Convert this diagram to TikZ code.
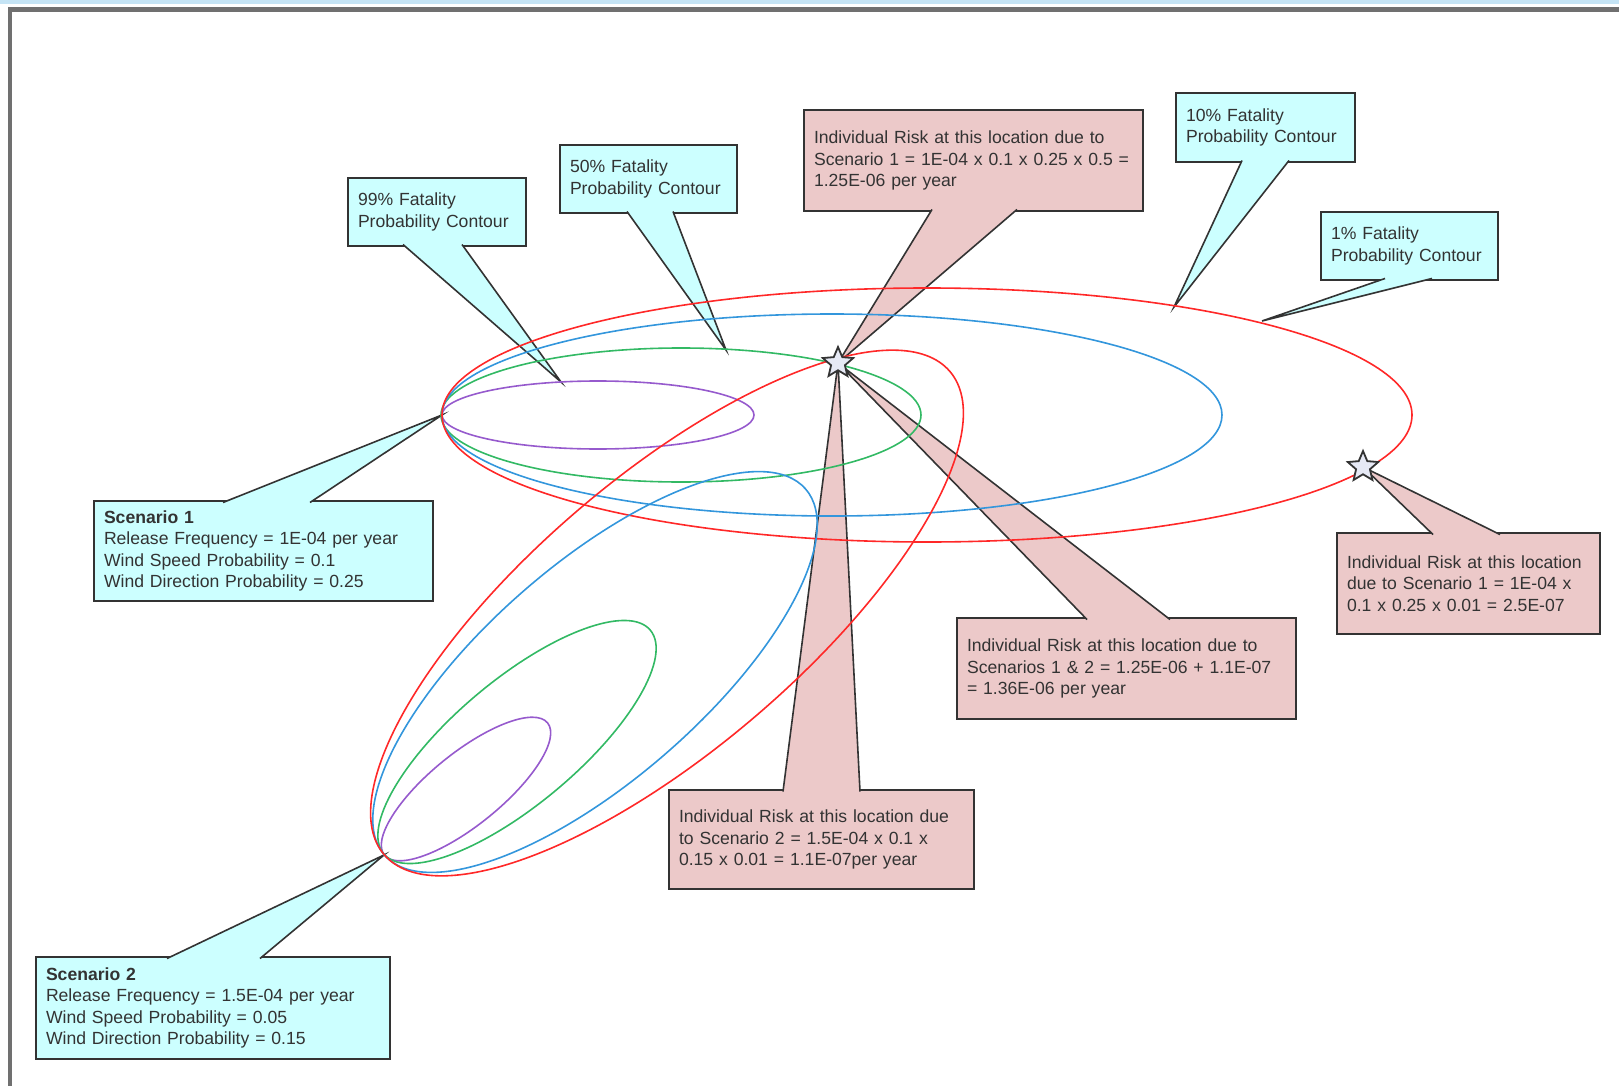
\documentclass[tikz,border=0pt]{standalone}
\usepackage{fontspec}
\setmainfont{Liberation Sans}
\usetikzlibrary{shapes.geometric, positioning, calc}

\definecolor{calloutcyan}{RGB}{204,255,255}
\definecolor{calloutpink}{RGB}{236,201,201}
\definecolor{boxline}{RGB}{51,51,51}
\definecolor{contourred}{RGB}{255,40,40}
\definecolor{contourblue}{RGB}{51,150,220}
\definecolor{contourgreen}{RGB}{50,185,100}
\definecolor{contourpurple}{RGB}{150,90,205}
\definecolor{starfill}{RGB}{230,233,245}
\definecolor{framegray}{RGB}{112,112,112}
\definecolor{framestrip}{RGB}{197,228,245}

\begin{document}
\begin{tikzpicture}[x=1pt, y=-1pt,
    every node/.style={font=\fontsize{17.6}{21.6}\selectfont, text=boxline},
    infobox/.style={draw=boxline, line width=2pt, fill=calloutcyan,
        anchor=north west, align=left, inner xsep=10pt, inner ysep=0pt,
        outer sep=0pt},
    riskbox/.style={infobox, fill=calloutpink},
    tail/.style={draw=boxline, line width=1.6pt},
    contour/.style={line width=1.6pt},
    marker/.style={star, star points=5, star point ratio=2.2,
        draw=boxline, line width=1.8pt, fill=starfill,
        minimum size=32pt, inner sep=0pt}]
    \useasboundingbox (0,0) rectangle (1619,1086);

    % window frame
    \fill[framestrip] (0,0) rectangle (1619,4);
    \fill[framegray] (8,7) rectangle (1619,12);
    \fill[framegray] (8,7) rectangle (12,1086);

    % release points, receptors and contour tips
    \coordinate (src1) at (442,415);
    \coordinate (src2) at (384,855);
    \coordinate (spot1) at (838,363);
    \coordinate (spot2) at (1363,467);
    \coordinate (tip99) at (561,382);
    \coordinate (tip50) at (726,350);
    \coordinate (tip10) at (1174,307);
    \coordinate (tip1) at (1262,321);

    % callout boxes
    \node[infobox, text width=158pt, minimum height=68pt] (c99) at (348,178)
        {99\% Fatality\\Probability Contour};
    \node[infobox, text width=157pt, minimum height=68pt] (c50) at (560,145)
        {50\% Fatality\\Probability Contour};
    \node[riskbox, text width=319pt, minimum height=101pt] (ir1) at (804,110)
        {Individual Risk at this location due to\\Scenario 1 = 1E-04 x 0.1 x 0.25 x 0.5 =\\1.25E-06 per year};
    \node[infobox, text width=159pt, minimum height=69pt] (c10) at (1176,93)
        {10\% Fatality\\Probability Contour};
    \node[infobox, text width=157pt, minimum height=68pt] (c1) at (1321,212)
        {1\% Fatality\\Probability Contour};
    \node[infobox, text width=319pt, minimum height=100pt] (sc1) at (94,501)
        {\textbf{Scenario 1}\\Release Frequency = 1E-04 per year\\Wind Speed Probability = 0.1\\Wind Direction Probability = 0.25};
    \node[riskbox, text width=243pt, minimum height=101pt] (irr) at (1337,533)
        {Individual Risk at this location\\due to Scenario 1 = 1E-04 x\\0.1 x 0.25 x 0.01 = 2.5E-07};
    \node[riskbox, text width=319pt, minimum height=101pt] (ir12) at (957,618)
        {Individual Risk at this location due to\\Scenarios 1 \& 2 = 1.25E-06 + 1.1E-07\\= 1.36E-06 per year};
    \node[riskbox, text width=285pt, minimum height=99pt] (ir2) at (669,790)
        {Individual Risk at this location due\\to Scenario 2 = 1.5E-04 x 0.1 x\\0.15 x 0.01 = 1.1E-07per year};
    \node[infobox, text width=334pt, minimum height=102pt] (sc2) at (36,957)
        {\textbf{Scenario 2}\\Release Frequency = 1.5E-04 per year\\Wind Speed Probability = 0.05\\Wind Direction Probability = 0.15};

    % callout tails
    \filldraw[tail, fill=calloutcyan] ($(c99.south west)+(55,-1.5)$) -- (tip99) -- ($(c99.south west)+(114,-1.5)$);
    \filldraw[tail, fill=calloutcyan] ($(c50.south west)+(67,-1.5)$) -- (tip50) -- ($(c50.south west)+(113,-1.5)$);
    \filldraw[tail, fill=calloutpink] ($(ir1.south west)+(128,-1.5)$) -- (spot1) -- ($(ir1.south west)+(213,-1.5)$);
    \filldraw[tail, fill=calloutcyan] ($(c10.south west)+(66,-1.5)$) -- (tip10) -- ($(c10.south west)+(113,-1.5)$);
    \filldraw[tail, fill=calloutcyan] ($(c1.south west)+(64,-1.5)$) -- (tip1) -- ($(c1.south west)+(111,-1.5)$);
    \filldraw[tail, fill=calloutcyan] ($(sc1.north west)+(129,1.5)$) -- (src1) -- ($(sc1.north west)+(216,1.5)$);
    \filldraw[tail, fill=calloutpink] ($(irr.north west)+(96,1.5)$) -- (spot2) -- ($(irr.north west)+(163,1.5)$);
    \filldraw[tail, fill=calloutpink] ($(ir12.north west)+(130,1.5)$) -- (spot1) -- ($(ir12.north west)+(213,1.5)$);
    \filldraw[tail, fill=calloutpink] ($(ir2.north west)+(114,1.5)$) -- (spot1) -- ($(ir2.north west)+(191,1.5)$);
    \filldraw[tail, fill=calloutcyan] ($(sc2.north west)+(131,1.5)$) -- (src2) -- ($(sc2.north west)+(224,1.5)$);

    % scenario 1 contours
    \draw[contour, contourpurple] (598,415) ellipse [x radius=156, y radius=34];
    \draw[contour, contourgreen] (681,415) ellipse [x radius=240, y radius=67];
    \draw[contour, contourblue] (832,415) ellipse [x radius=390, y radius=101];
    \draw[contour, contourred] (927,415) ellipse [x radius=485, y radius=127];

    % scenario 2 contours
    \draw[contour, contourpurple, rotate around={39:(466,789)}] (466,789) ellipse [x radius=105, y radius=36];
    \draw[contour, contourgreen, rotate around={40:(517,742)}] (517,742) ellipse [x radius=174, y radius=62];
    \draw[contour, contourblue, rotate around={41:(595,672)}] (595,672) ellipse [x radius=279, y radius=108];
    \draw[contour, contourred, rotate around={40.5:(667,613)}] (667,613) ellipse [x radius=372, y radius=136];

    % receptor locations
    \node[marker] (star1) at (spot1) {};
    \node[marker] (star2) at (spot2) {};
\end{tikzpicture}
\end{document}
